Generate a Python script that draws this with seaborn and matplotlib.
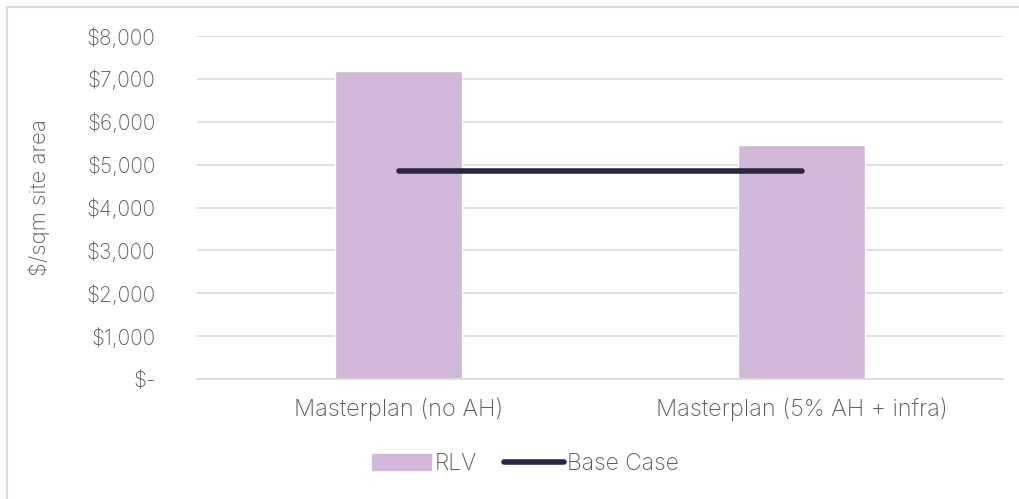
import matplotlib
matplotlib.use("Agg")
import matplotlib.pyplot as plt
import matplotlib.lines as mlines
import pandas as pd
import seaborn as sns
from matplotlib.ticker import FuncFormatter

# -------- DATA --------
categories = ["Masterplan (no AH)", "Masterplan (5% AH + infra)"]
rlv_values = [7180, 5450]
base_case = [4850, 4850]

bar_color = "#D1B8D9"
line_color = "#2A2640"
text_color = "#595959"
grid_color = "#D9D9D9"

df = pd.DataFrame({"Scenario": categories, "RLV": rlv_values, "Base Case": base_case})

# -------- PLOT --------
sns.set_style("white")
plt.rcParams["font.family"] = ["Inter", "DejaVu Sans"]
plt.rcParams["font.weight"] = "light"

fig = plt.figure(figsize=(10.2, 4.99), dpi=100)
ax = fig.add_axes([197 / 1020, 1 - 379 / 499, 806 / 1020, 343 / 499])

sns.barplot(data=df, x="Scenario", y="RLV", color=bar_color, width=0.315,
            saturation=1, ax=ax)
ax.plot(range(len(categories)), df["Base Case"], color=line_color,
        linewidth=4, solid_capstyle="round", zorder=3)

ax.set_xlim(-0.5, len(categories) - 0.5)
ax.set_ylim(0, 8000)
ax.set_yticks(range(0, 8001, 1000))
ax.yaxis.set_major_formatter(FuncFormatter(lambda v, p: "$-" if v == 0 else f"${v:,.0f}"))
ax.grid(axis="y", color=grid_color, linewidth=1.2)
ax.set_axisbelow(True)
for s in ax.spines.values():
    s.set_visible(False)
ax.spines["bottom"].set_visible(True)
ax.spines["bottom"].set_color(grid_color)
ax.spines["bottom"].set_linewidth(1.2)

ax.tick_params(axis="y", length=0, labelsize=15, colors=text_color, pad=30)
ax.tick_params(axis="x", length=0, labelsize=17, colors=text_color, pad=13)
ax.set_xlabel("")
ax.set_ylabel("$/sqm site area", fontsize=16, color=text_color,
              fontweight="light")
ax.yaxis.set_label_coords(-0.183, 0.53)

# Legend
handles = [plt.Rectangle((0, 0), 1, 1, color=bar_color),
           mlines.Line2D([], [], color=line_color, linewidth=4, solid_capstyle="round")]
fig.legend(handles, ["RLV", "Base Case"], loc="center", bbox_to_anchor=(0.515, 1 - 464 / 499),
           ncol=2, frameon=False, fontsize=16.5, labelcolor=text_color,
           handlelength=2.6, handletextpad=0.15, columnspacing=1.2)

# Chart border (top and left)
fig.add_artist(mlines.Line2D([7 / 1020, 1], [1 - 7 / 499, 1 - 7 / 499], color=grid_color, linewidth=1.5))
fig.add_artist(mlines.Line2D([7 / 1020, 7 / 1020], [0, 1 - 7 / 499], color=grid_color, linewidth=1.5))

plt.savefig("out.png", dpi=100)
